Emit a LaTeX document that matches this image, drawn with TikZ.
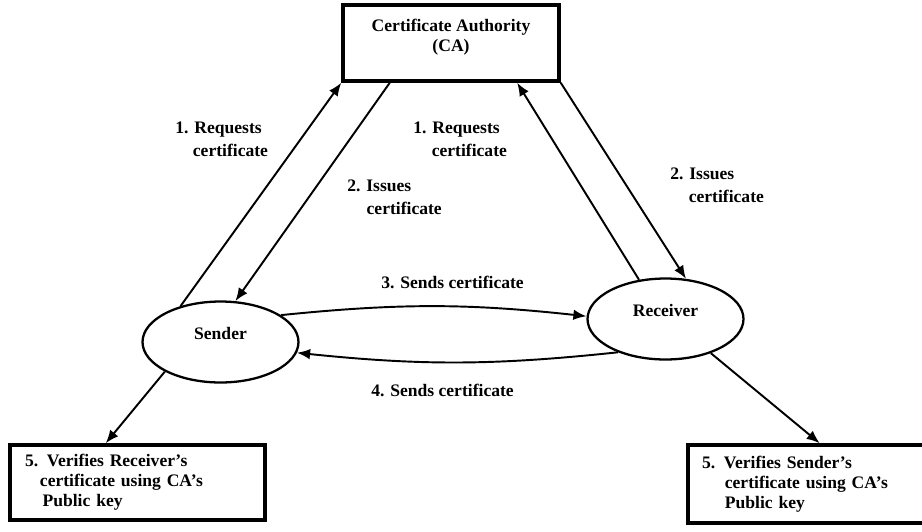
\documentclass[tikz,border=0pt]{standalone}
\usepackage{fontspec}
\setmainfont{Liberation Serif}
\usetikzlibrary{shapes.geometric,arrows.meta}

\begin{document}
\begin{tikzpicture}[x=0.02cm, y=-0.02cm,
  testo/.style={font=\fontsize{10}{13}\selectfont\bfseries, inner sep=0pt, align=left},
  riquadro/.style={draw, line width=2pt, inner xsep=0.3cm, inner ysep=0pt,
    font=\fontsize{10}{11.3}\selectfont\bfseries, align=left},
  attore/.style={draw, ellipse, line width=1.3pt, inner sep=0pt,
    minimum width=3.12cm, minimum height=1.62cm,
    font=\fontsize{10}{12}\selectfont\bfseries, text height=7pt, text depth=10.4pt},
  freccia/.style={line width=1.1pt, -{Latex[length=7.5pt,width=6pt]}}]

% Area del disegno
\useasboundingbox (0,0) rectangle (922,531);

% Autorita' di certificazione
\node[riquadro, align=center, minimum width=4.32cm, minimum height=1.52cm,
  text depth=9pt] (ca) at (451,43) {Certificate Authority\\(CA)};

% Mittente e destinatario
\node[attore] (snd) at (220.5,342) {Sender};
\node[attore] (rcv) at (665.5,319) {Receiver};

% Riquadri di verifica (quello a destra esce dal bordo)
\node[riquadro, text width=4.5cm, minimum height=1.5cm] (lbox) at (137.5,482.5)
  {5. Verifies Receiver's\\\hspace*{8.5pt}certificate using CA's\\\hspace*{10pt}Public key};
\node[riquadro, inner xsep=0.28cm, text width=4.88cm, minimum height=1.56cm] (rbox) at (824,484)
  {5. Verifies Sender's\\\hspace*{13pt}certificate using CA's\\\hspace*{13pt}Public key};

% Etichette dei passi
\node[testo, anchor=north west] (req1) at (175,122) {1. Requests\\\hspace*{10pt}certificate};
\node[testo, anchor=north west] (iss1) at (347,180) {2. Issues\\\hspace*{11pt}certificate};
\node[testo, anchor=north west] (req2) at (413,122) {1. Requests\\\hspace*{10.5pt}certificate};
\node[testo, anchor=north west] (iss2) at (670,168) {2. Issues\\\hspace*{10.5pt}certificate};
\node[testo] (step3) at (452.5,282) {3. Sends certificate};
\node[testo] (step4) at (442.5,390) {4. Sends certificate};

% Frecce
\draw[freccia] (snd.138) -- (ca.south west);
\draw[freccia] (ca.-147) -- (snd.70);
\draw[freccia] (rcv.124) -- (ca.-31);
\draw[freccia] (ca.south east) -- (rcv.63);
\draw[freccia] (snd.24) to[bend left=6] (rcv.178);
\draw[freccia] (rcv.-145) to[bend left=6] (snd.-8);
\draw[freccia] (snd.-152) -- (lbox.129);
\draw[freccia] (rcv.-37) -- (rbox.96);

\end{tikzpicture}
\end{document}
